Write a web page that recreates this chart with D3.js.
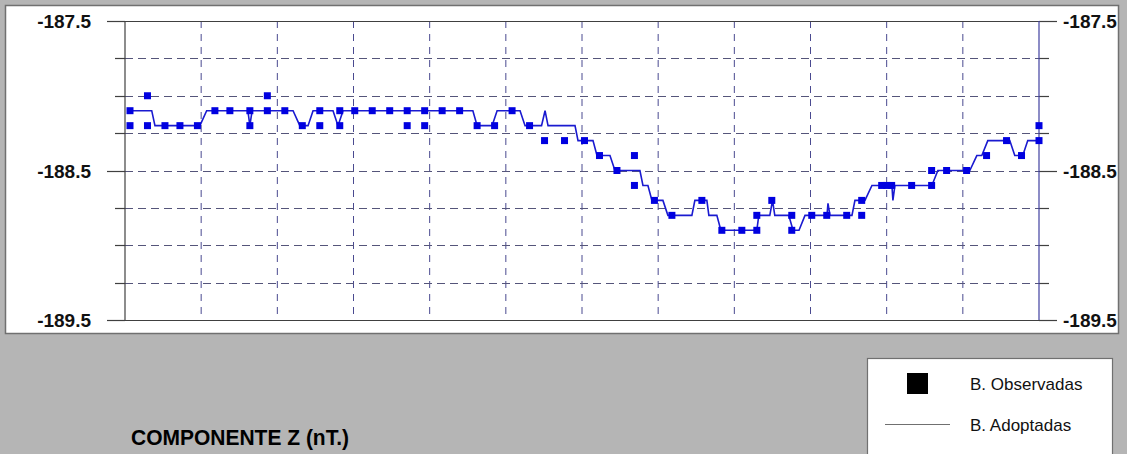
<!DOCTYPE html>
<html>
<head>
<meta charset="utf-8">
<script src="https://cdn.jsdelivr.net/npm/d3@7"></script>
<style>
  body { margin: 0; background: #b5b5b5; }
  svg { display: block; }
</style>
</head>
<body>
<svg id="chart" width="1127" height="454"></svg>
<script>
// weekly baseline values, day of year (leap year) and nT
const obsDays = [2, 2, 9, 9, 16, 22, 29, 36, 42, 50, 50, 57, 57, 64, 71, 78, 78, 86, 86, 92,
  99, 106, 113, 113, 120, 120, 127, 134, 141, 148, 155, 162, 168, 176, 184, 190, 197, 204, 204,
  212, 219, 231, 239, 247, 253, 253, 259, 267, 267, 275, 281, 289, 295, 295, 303, 305, 307, 315,
  323, 323, 329, 337, 345, 353, 359, 366, 366];
const obsValues = [-188.1, -188.2, -188.0, -188.2, -188.2, -188.2, -188.2, -188.1, -188.1, -188.1,
  -188.2, -188.0, -188.1, -188.1, -188.2, -188.1, -188.2, -188.1, -188.2, -188.1,
  -188.1, -188.1, -188.1, -188.2, -188.1, -188.2, -188.1, -188.1, -188.2, -188.2, -188.1, -188.2,
  -188.3, -188.3, -188.3, -188.4, -188.5, -188.4, -188.6,
  -188.7, -188.8, -188.7, -188.9, -188.9, -188.9, -188.8, -188.7, -188.8, -188.9, -188.8, -188.8,
  -188.8, -188.7, -188.8, -188.6, -188.6, -188.6, -188.6,
  -188.6, -188.5, -188.5, -188.5, -188.4, -188.3, -188.4, -188.3, -188.2];

// adopted baseline (vertices of the drawn line)
const adoptDays = [1, 10.7, 12, 30, 32.7, 49.2, 50, 50.9, 67.3, 70, 73.3, 75.3, 83.3, 85.3, 87.3,
  139.3, 141, 147, 149, 158.2, 160.2, 166.8, 168.2, 169.4, 180.2, 181.4, 187.4, 189, 194.2, 196.2,
  206.2, 207.4, 209.4, 211, 215.4, 217.4, 227, 228.2, 233, 233.8, 237, 238.6, 253, 253.8, 258.2,
  259.3, 260.2, 265.8, 267.5, 269.9, 272.3, 281.1, 281.5, 282.3, 291.1, 292.3, 296.3, 299.1,
  307.1, 307.5, 308.3, 323.1, 325.5, 338.3, 341.1, 343.1, 345.5, 354.3, 356.3, 359.5, 361.5, 366.4];
const adoptValues = [-188.1, -188.1, -188.2, -188.2, -188.1, -188.1, -188.2, -188.1, -188.1, -188.2,
  -188.2, -188.1, -188.1, -188.2, -188.1,
  -188.1, -188.2, -188.2, -188.1, -188.1, -188.2, -188.2, -188.1, -188.2, -188.2, -188.3, -188.3,
  -188.4, -188.4, -188.5,
  -188.5, -188.6, -188.6, -188.7, -188.7, -188.8, -188.8, -188.7, -188.7, -188.8, -188.8, -188.9,
  -188.9, -188.8, -188.8,
  -188.7, -188.8, -188.8, -188.9, -188.9, -188.8, -188.8, -188.72, -188.8, -188.8, -188.7, -188.7,
  -188.6, -188.6, -188.7, -188.6, -188.6, -188.5, -188.5, -188.4, -188.4, -188.3, -188.3, -188.4,
  -188.4, -188.3, -188.3];

const yLabels = [-187.5, -188.5, -189.5];
const yMinor = [-187.75, -188.0, -188.25, -188.75, -189.0, -189.25];
const title = "COMPONENTE Z (nT.)";
const legendLabels = ["B. Observadas", "B. Adoptadas"];

const svg = d3.select("#chart");
const x = d3.scaleLinear().domain([0, 366]).range([125, 1039]);
const y = d3.scaleLinear().domain([-189.5, -187.5]).range([320, 21]);
const xGrid = d3.range(1, 12).map(i => i * 366 / 12);

// white panel
svg.append("rect")
  .attr("x", 5.5).attr("y", 5.5).attr("width", 1113).attr("height", 328)
  .attr("fill", "#fff").attr("stroke", "#707070").attr("stroke-width", 1.5);

svg.append("clipPath").attr("id", "panel")
  .append("rect").attr("x", 6).attr("y", 6).attr("width", 1112).attr("height", 327);

const g = svg.append("g").attr("clip-path", "url(#panel)");

// vertical grid
g.selectAll("line.vgrid").data(xGrid).enter().append("line")
  .attr("x1", d => x(d)).attr("x2", d => x(d))
  .attr("y1", y(-187.5)).attr("y2", y(-189.5))
  .attr("stroke", "#4a4a90").attr("stroke-width", 1)
  .attr("stroke-dasharray", "7,6");

// horizontal grid (dashed inside, solid ticks outside)
g.selectAll("line.hgrid").data(yMinor.concat([-188.5])).enter().append("line")
  .attr("x1", x(0)).attr("x2", x(366))
  .attr("y1", d => Math.round(y(d)) + 0.5).attr("y2", d => Math.round(y(d)) + 0.5)
  .attr("stroke", "#55557a").attr("stroke-width", 1.2)
  .attr("stroke-dasharray", "8,5");

const tickLen = d => (yLabels.includes(d) ? 18 : 10);
const allY = yMinor.concat(yLabels);
g.selectAll("line.ltick").data(allY).enter().append("line")
  .attr("x1", d => x(0) - tickLen(d)).attr("x2", x(0))
  .attr("y1", d => Math.round(y(d)) + 0.5).attr("y2", d => Math.round(y(d)) + 0.5)
  .attr("stroke", "#404040").attr("stroke-width", 1.2);
g.selectAll("line.rtick").data(allY).enter().append("line")
  .attr("x1", x(366)).attr("x2", d => x(366) + tickLen(d))
  .attr("y1", d => Math.round(y(d)) + 0.5).attr("y2", d => Math.round(y(d)) + 0.5)
  .attr("stroke", "#404040").attr("stroke-width", 1.2);

// top and bottom solid lines
g.selectAll("line.frame").data([-187.5, -189.5]).enter().append("line")
  .attr("x1", x(0)).attr("x2", x(366))
  .attr("y1", d => Math.round(y(d)) + 0.5).attr("y2", d => Math.round(y(d)) + 0.5)
  .attr("stroke", "#404040").attr("stroke-width", 1.2);

// axes
g.append("line").attr("x1", x(0)).attr("x2", x(0)).attr("y1", y(-187.5)).attr("y2", y(-189.5))
  .attr("stroke", "#404040").attr("stroke-width", 1.2);
g.append("line").attr("x1", x(366)).attr("x2", x(366)).attr("y1", y(-187.5)).attr("y2", y(-189.5))
  .attr("stroke", "#4040a0").attr("stroke-width", 1.2);

// labels
g.selectAll("text.ly").data(yLabels).enter().append("text")
  .attr("x", 91).attr("y", d => y(d) + 7)
  .attr("text-anchor", "end")
  .attr("font-family", "Liberation Sans, Arial, sans-serif")
  .attr("font-weight", "bold").attr("font-size", 19)
  .attr("fill", "#111")
  .text(d => d.toFixed(1));
g.selectAll("text.ry").data(yLabels).enter().append("text")
  .attr("x", 1063).attr("y", d => y(d) + 7)
  .attr("text-anchor", "start")
  .attr("font-family", "Liberation Sans, Arial, sans-serif")
  .attr("font-weight", "bold").attr("font-size", 19)
  .attr("fill", "#111")
  .text(d => d.toFixed(1));

// adopted line
const adopted = adoptDays.map((d, i) => [d, adoptValues[i]]);
g.append("path").datum(adopted)
  .attr("fill", "none").attr("stroke", "#1a1ad0").attr("stroke-width", 1.6)
  .attr("d", d3.line().x(d => x(d[0])).y(d => y(d[1])));

// observed squares
const observed = obsDays.map((d, i) => [d, obsValues[i]]);
g.selectAll("rect.obs").data(observed).enter().append("rect")
  .attr("x", d => x(d[0]) - 3.5).attr("y", d => y(d[1]) - 3.5)
  .attr("width", 7).attr("height", 7)
  .attr("fill", "#0000e0");

// title
svg.append("text")
  .attr("x", 131).attr("y", 445)
  .attr("font-family", "Liberation Sans, Arial, sans-serif")
  .attr("font-weight", "bold").attr("font-size", 22)
  .attr("textLength", 218).attr("lengthAdjust", "spacingAndGlyphs")
  .attr("fill", "#000")
  .text(title);

// legend
const lg = svg.append("g");
lg.append("rect").attr("x", 867.5).attr("y", 358.5).attr("width", 245).attr("height", 110)
  .attr("fill", "#fff").attr("stroke", "#707070").attr("stroke-width", 1.2);
lg.append("rect").attr("x", 907).attr("y", 373).attr("width", 21).attr("height", 21).attr("fill", "#000");
lg.append("line").attr("x1", 885).attr("x2", 950).attr("y1", 424.5).attr("y2", 424.5)
  .attr("stroke", "#707070").attr("stroke-width", 1);
lg.selectAll("text").data(legendLabels).enter().append("text")
  .attr("x", 970).attr("y", (d, i) => 390 + i * 41)
  .attr("font-family", "Liberation Sans, Arial, sans-serif")
  .attr("font-size", 17).attr("fill", "#111")
  .text(d => d);
</script>
</body>
</html>
